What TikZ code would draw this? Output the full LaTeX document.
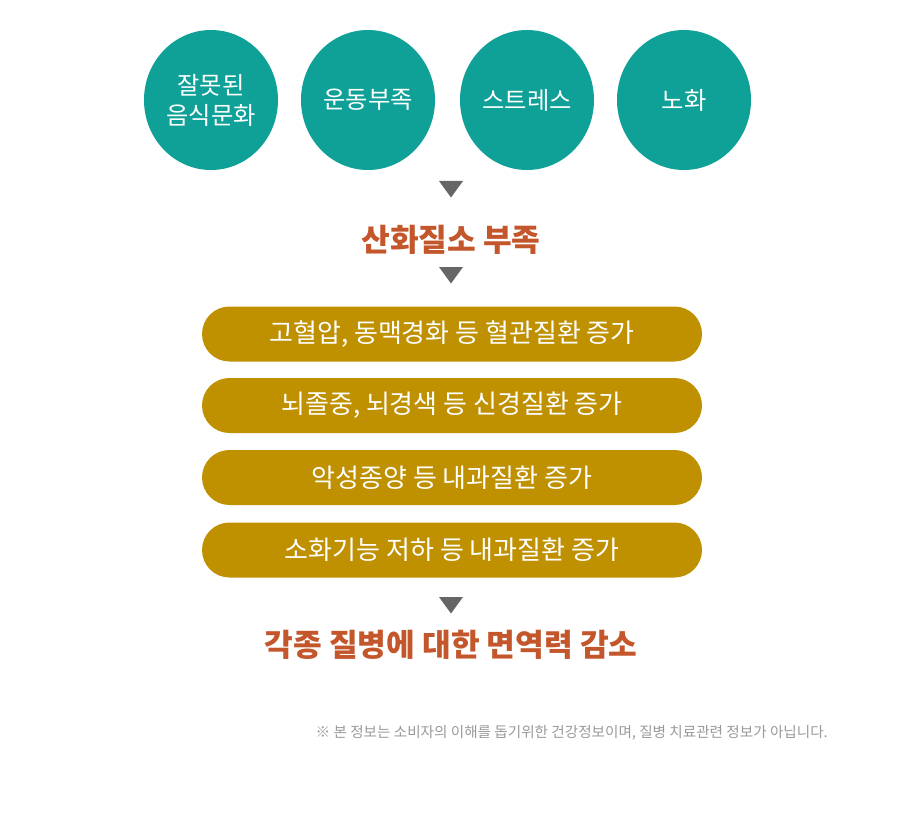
\documentclass[tikz,border=0pt]{standalone}
\usepackage{fontspec}
\setmainfont{Noto Sans CJK KR}
\usetikzlibrary{shapes.geometric,shapes.misc}
\definecolor{teal1}{HTML}{0FA097}
\definecolor{gold1}{HTML}{BF9000}
\definecolor{tri1}{HTML}{666666}
\definecolor{orange1}{HTML}{C3562A}
\definecolor{note1}{HTML}{9A9A9A}
\tikzset{
  cause/.style={ellipse, fill=teal1, draw=none, minimum width=134pt, minimum height=140pt, inner sep=0pt,
    text=white, font=\fontsize{24.3}{30}\selectfont, align=center},
  pill/.style={rounded rectangle, fill=gold1, draw=none, minimum width=500pt, minimum height=55pt, inner sep=0pt,
    text=white, font=\fontsize{26}{30}\selectfont},
  result/.style={text=orange1, font=\fontsize{31.2}{36}\selectfont\bfseries, inner sep=0pt},
  tri/.style={fill=tri1, draw=none},
  note/.style={text=note1, font=\fontsize{14.6}{17}\selectfont, inner sep=0pt}
}
\begin{document}
\begin{tikzpicture}[x=1pt,y=-1pt]
\useasboundingbox[fill=white] (0,0) rectangle (900,832);
\node[cause] (c1) at (211,100) {잘못된\\음식문화};
\node[cause] (c2) at (368,100) {운동부족};
\node[cause] (c3) at (527,100) {스트레스};
\node[cause] (c4) at (684,100) {노화};
\coordinate (t1) at (451,189);
\fill[tri, shift={(t1)}] (-12,-8) -- (12,-8) -- (0,8.5) -- cycle;
\node[result] (r1) at (451,240) {산화질소 부족};
\coordinate (t2) at (451,275);
\fill[tri, shift={(t2)}] (-12,-8) -- (12,-8) -- (0,8.5) -- cycle;
\node[pill] (p1) at (452,334) {고혈압, 동맥경화 등 혈관질환 증가};
\node[pill] (p2) at (452,405.5) {뇌졸중, 뇌경색 등 신경질환 증가};
\node[pill] (p3) at (452,477.5) {악성종양 등 내과질환 증가};
\node[pill] (p4) at (452,550) {소화기능 저하 등 내과질환 증가};
\coordinate (t3) at (451,605);
\fill[tri, shift={(t3)}] (-12,-8) -- (12,-8) -- (0,8.5) -- cycle;
\node[result] (r2) at (451,645) {각종 질병에 대한 면역력 감소};
\node[note, anchor=east] (n1) at (828,733) {※ 본 정보는 소비자의 이해를 돕기위한 건강정보이며, 질병 치료관련 정보가 아닙니다.};
\end{tikzpicture}
\end{document}
